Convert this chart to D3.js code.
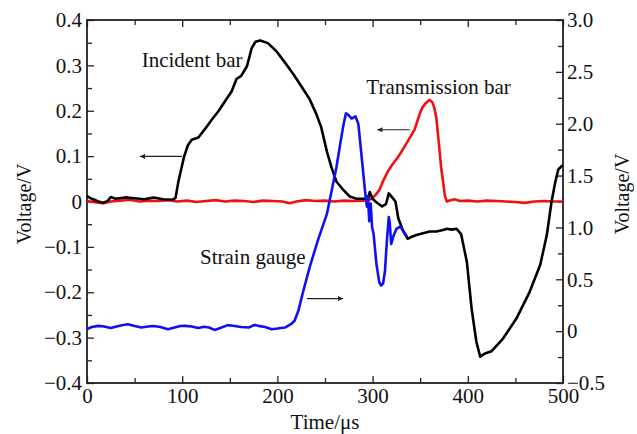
<!DOCTYPE html>
<html>
<head>
<meta charset="utf-8">
<script src="https://cdn.jsdelivr.net/npm/d3@7"></script>
<style>
  html, body { margin: 0; padding: 0; background: #fff; }
  svg text { font-family: "Liberation Serif", "Times New Roman", Times, "DejaVu Serif", serif; }
</style>
</head>
<body>
<div id="chart"></div>
<script>
// Incident bar (left axis), Transmission bar (left axis), Strain gauge (right axis)
const incidentT = [0, 5, 12, 17, 22, 25, 30, 40, 50, 60, 70, 80, 90, 93, 96, 102, 106, 110, 117, 124, 131, 138, 145, 152, 157, 162, 168, 173, 177, 182, 190, 199, 208, 217, 227, 234, 241, 246, 252, 257, 262, 269, 276, 283, 292, 295, 297, 300, 303, 310, 314, 317, 321, 324, 327, 332, 337, 342, 346, 353, 360, 367, 374, 378, 383, 388, 393, 399, 404, 409, 413, 418, 425, 437, 451, 465, 476, 483, 488, 492, 495, 498, 500];
const incidentV = [0.012, 0.006, 0.0, -0.003, 0.002, 0.01, 0.006, 0.009, 0.007, 0.005, 0.009, 0.005, 0.004, 0.008, 0.044, 0.099, 0.124, 0.136, 0.141, 0.16, 0.18, 0.199, 0.221, 0.243, 0.27, 0.277, 0.298, 0.338, 0.352, 0.355, 0.349, 0.331, 0.306, 0.28, 0.248, 0.225, 0.192, 0.164, 0.11, 0.074, 0.044, 0.026, 0.011, 0.006, 0.006, 0.004, 0.021, 0.006, 0.0, -0.011, -0.006, 0.018, 0.008, 0.0, -0.037, -0.065, -0.082, -0.077, -0.074, -0.07, -0.066, -0.066, -0.063, -0.06, -0.062, -0.06, -0.072, -0.133, -0.236, -0.309, -0.342, -0.335, -0.33, -0.302, -0.258, -0.199, -0.14, -0.074, 0.0, 0.044, 0.07, 0.077, 0.08];

const transT = [0, 10, 17, 25, 35, 45, 55, 65, 75, 85, 95, 105, 115, 125, 135, 145, 155, 165, 175, 185, 195, 205, 213, 220, 230, 240, 250, 260, 270, 280, 290, 296, 299, 303, 307, 311, 316, 321, 326, 331, 337, 344, 349, 352, 355, 358, 360, 363, 365, 367, 370, 372, 374, 376, 378, 381, 386, 392, 400, 410, 420, 430, 440, 450, 460, 470, 480, 490, 500];
const transV = [0.001, -0.002, -0.004, 0.0, 0.002, 0.004, 0.0, 0.002, 0.001, 0.003, 0.0, 0.002, -0.001, 0.001, 0.003, 0.0, 0.002, 0.001, -0.001, 0.002, 0.001, 0.0, -0.004, 0.0, 0.003, 0.001, 0.002, 0.0, 0.002, 0.001, 0.002, 0.003, 0.007, 0.014, 0.025, 0.045, 0.066, 0.082, 0.096, 0.112, 0.133, 0.158, 0.19, 0.206, 0.215, 0.221, 0.224, 0.218, 0.205, 0.184, 0.12, 0.075, 0.044, 0.012, 0.0, 0.002, 0.005, 0.001, 0.002, 0.0, 0.002, 0.001, 0.0, -0.001, -0.003, 0.0, 0.001, 0.0, 0.0];

const strainT = [0, 5, 12, 18, 25, 32, 38, 43, 50, 57, 64, 70, 77, 85, 92, 98, 103, 110, 117, 123, 128, 134, 140, 148, 155, 162, 170, 176, 180, 187, 194, 200, 208, 215, 218, 222, 227, 234, 242, 252, 262, 269, 272, 275, 278, 282, 285, 288.5, 292, 294, 295, 296.5, 298, 299.5, 301, 304, 307, 309, 311, 313, 315, 317, 318, 319.5, 322, 325, 329, 332, 336];
const strainV = [0.02, 0.04, 0.051, 0.045, 0.03, 0.048, 0.06, 0.067, 0.05, 0.035, 0.045, 0.05, 0.04, 0.019, 0.035, 0.05, 0.051, 0.045, 0.03, 0.042, 0.035, 0.012, 0.03, 0.058, 0.05, 0.04, 0.035, 0.06, 0.051, 0.04, 0.019, 0.025, 0.035, 0.073, 0.1, 0.196, 0.38, 0.62, 0.86, 1.13, 1.58, 1.97, 2.1, 2.08, 2.05, 2.07, 2.0, 1.68, 1.356, 1.2, 1.3, 1.06, 1.23, 1.0, 0.94, 0.65, 0.47, 0.44, 0.46, 0.58, 0.87, 1.1, 1.05, 0.84, 0.92, 0.986, 1.008, 0.97, 0.91];

const xTicks = [0, 100, 200, 300, 400, 500];
const leftTicks = [-0.4, -0.3, -0.2, -0.1, 0, 0.1, 0.2, 0.3, 0.4];
const rightTicks = [-0.5, 0, 0.5, 1.0, 1.5, 2.0, 2.5, 3.0];

// annotation texts and arrows, in data units of the left axis
const labels = [
  { text: 'Incident bar', t: 57.4, v: 0.296 },
  { text: 'Transmission bar', t: 293.4, v: 0.2376 },
  { text: 'Strain gauge', t: 118.7, v: -0.1386 }
];
const arrows = [
  { t0: 99.8, t1: 55.7, v: 0.0994 },
  { t0: 338.9, t1: 305, v: 0.158 },
  { t0: 231, t1: 268.9, v: -0.214 }
];

const W = 637, H = 434;
const margin = { top: 20, right: 74, bottom: 51, left: 87 };
const iw = W - margin.left - margin.right;
const ih = H - margin.top - margin.bottom;
const FONT = '"Liberation Serif", "Times New Roman", serif';

const svg = d3.select('#chart').append('svg').attr('width', W).attr('height', H);
const g = svg.append('g').attr('transform', `translate(${margin.left},${margin.top})`);

const x = d3.scaleLinear().domain([0, 500]).range([0, iw]);
const yL = d3.scaleLinear().domain([-0.4, 0.4]).range([ih, 0]);
const yR = d3.scaleLinear().domain([-0.5, 3.0]).range([ih, 0]);

const fmt = d => d === 0 ? '0' : d3.format('.1f')(d);
const axisColor = '#222';

function styleAxis(sel) {
  sel.attr('font-family', FONT).attr('font-size', 21);
  sel.select('.domain').remove();
  sel.selectAll('line').attr('stroke', axisColor).attr('stroke-width', 1.3);
  sel.selectAll('text').attr('fill', '#111').attr('font-family', FONT).attr('font-size', 21);
}

// minor ticks
g.append('g').attr('transform', `translate(0,${ih})`)
  .call(d3.axisBottom(x).tickValues(d3.range(50, 500, 100)).tickSize(-5).tickFormat(''))
  .call(styleAxis);
g.append('g')
  .call(d3.axisTop(x).tickValues(d3.range(50, 500, 100)).tickSize(-5).tickFormat(''))
  .call(styleAxis);
g.append('g')
  .call(d3.axisLeft(yL).tickValues(d3.range(-0.35, 0.4, 0.1)).tickSize(-5).tickFormat(''))
  .call(styleAxis);
g.append('g').attr('transform', `translate(${iw},0)`)
  .call(d3.axisRight(yR).tickValues(d3.range(-0.25, 3.0, 0.5)).tickSize(-5).tickFormat(''))
  .call(styleAxis);

// major ticks
g.append('g').attr('transform', `translate(0,${ih})`)
  .call(d3.axisBottom(x).tickValues(xTicks).tickSize(-7).tickPadding(5).tickFormat(d3.format('d')))
  .call(styleAxis);
g.append('g')
  .call(d3.axisTop(x).tickValues(xTicks).tickSize(-7).tickFormat(''))
  .call(styleAxis);
g.append('g')
  .call(d3.axisLeft(yL).tickValues(leftTicks).tickSize(-7).tickPadding(5).tickFormat(fmt))
  .call(styleAxis);
g.append('g').attr('transform', `translate(${iw},0)`)
  .call(d3.axisRight(yR).tickValues(rightTicks).tickSize(-7).tickPadding(4).tickFormat(fmt))
  .call(styleAxis);

// frame
g.append('rect').attr('width', iw).attr('height', ih)
  .attr('fill', 'none').attr('stroke', axisColor).attr('stroke-width', 1.8);

// series
const lineL = d3.line().x(d => x(d[0])).y(d => yL(d[1]));
const lineR = d3.line().x(d => x(d[0])).y(d => yR(d[1]));

g.append('path').datum(transT.map((t, i) => [t, transV[i]]))
  .attr('d', lineL).attr('fill', 'none').attr('stroke', '#f01010').attr('stroke-width', 2.6).attr('stroke-linejoin', 'round');
g.append('path').datum(incidentT.map((t, i) => [t, incidentV[i]]))
  .attr('d', lineL).attr('fill', 'none').attr('stroke', '#000').attr('stroke-width', 2.6).attr('stroke-linejoin', 'round');
g.append('path').datum(strainT.map((t, i) => [t, strainV[i]]))
  .attr('d', lineR).attr('fill', 'none').attr('stroke', '#1010f0').attr('stroke-width', 2.6).attr('stroke-linejoin', 'round');

// annotations
g.selectAll('.lab').data(labels).enter().append('text')
  .attr('class', 'lab')
  .attr('x', d => x(d.t)).attr('y', d => yL(d.v))
  .attr('font-family', FONT).attr('font-size', 21).attr('fill', '#111')
  .text(d => d.text);

svg.append('defs').append('marker')
  .attr('id', 'ah').attr('viewBox', '0 0 10 10').attr('refX', 10).attr('refY', 5)
  .attr('markerWidth', 7).attr('markerHeight', 5).attr('markerUnits', 'userSpaceOnUse')
  .attr('orient', 'auto')
  .append('path').attr('d', 'M0,0L10,5L0,10Z').attr('fill', '#222');

g.selectAll('.arr').data(arrows).enter().append('line')
  .attr('class', 'arr')
  .attr('x1', d => x(d.t0)).attr('x2', d => x(d.t1))
  .attr('y1', d => yL(d.v)).attr('y2', d => yL(d.v))
  .attr('stroke', '#222').attr('stroke-width', 1.1)
  .attr('marker-end', 'url(#ah)');

// axis titles
svg.append('text')
  .attr('transform', `translate(${margin.left + iw / 2},429)`)
  .attr('text-anchor', 'middle').attr('font-family', FONT).attr('font-size', 21).attr('fill', '#111')
  .text('Time/μs');
svg.append('text')
  .attr('transform', 'translate(31,204) rotate(-90)')
  .attr('text-anchor', 'middle').attr('font-family', FONT).attr('font-size', 20).attr('fill', '#111')
  .text('Voltage/V');
svg.append('text')
  .attr('transform', 'translate(629,194) rotate(-90)')
  .attr('text-anchor', 'middle').attr('font-family', FONT).attr('font-size', 20).attr('fill', '#111')
  .text('Voltage/V');
</script>
</body>
</html>
